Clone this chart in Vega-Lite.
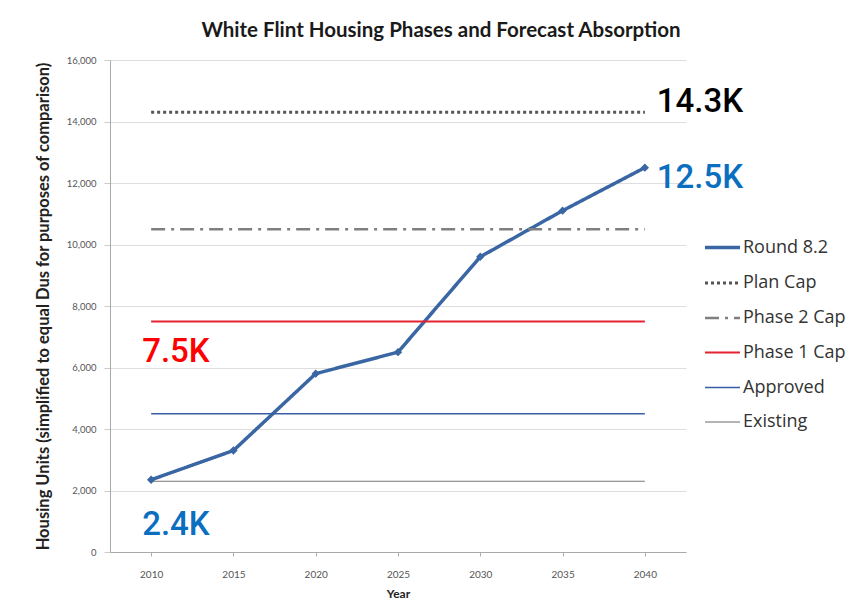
{
  "$schema": "https://vega.github.io/schema/vega-lite/v6.json",
  "width": 576,
  "height": 492,
  "autosize": {"type": "none"},
  "padding": {"left": 110, "top": 60, "right": 181, "bottom": 63},
  "background": "white",
  "config": {"view": {"stroke": null}, "font": "Lato"},
  "title": {
    "text": "White Flint Housing Phases and Forecast Absorption",
    "font": "Lato", "fontSize": 20.5, "fontWeight": "bold", "color": "#1a1a1a",
    "anchor": "middle", "dx": 43, "offset": 14
  },
  "datasets": {
    "lines": [
      {"series": "Round 8.2", "year": "2010", "units": 2350},
      {"series": "Round 8.2", "year": "2015", "units": 3300},
      {"series": "Round 8.2", "year": "2020", "units": 5800},
      {"series": "Round 8.2", "year": "2025", "units": 6500},
      {"series": "Round 8.2", "year": "2030", "units": 9600},
      {"series": "Round 8.2", "year": "2035", "units": 11100},
      {"series": "Round 8.2", "year": "2040", "units": 12500},
      {"series": "Plan Cap", "year": "2010", "units": 14300},
      {"series": "Plan Cap", "year": "2040", "units": 14300},
      {"series": "Phase 2 Cap", "year": "2010", "units": 10500},
      {"series": "Phase 2 Cap", "year": "2040", "units": 10500},
      {"series": "Phase 1 Cap", "year": "2010", "units": 7500},
      {"series": "Phase 1 Cap", "year": "2040", "units": 7500},
      {"series": "Approved", "year": "2010", "units": 4500},
      {"series": "Approved", "year": "2040", "units": 4500},
      {"series": "Existing", "year": "2010", "units": 2300},
      {"series": "Existing", "year": "2040", "units": 2300}
    ],
    "notes": [
      {"label": "14.3K", "year": "2040", "units": 14300},
      {"label": "12.5K", "year": "2040", "units": 12500},
      {"label": "7.5K", "year": "2010", "units": 7500},
      {"label": "2.4K", "year": "2010", "units": 2350}
    ]
  },
  "encoding": {
    "x": {
      "field": "year", "type": "ordinal",
      "scale": {"type": "point", "padding": 0.5, "domain": ["2010","2015","2020","2025","2030","2035","2040"]},
      "axis": {
        "title": "Year", "titleFontSize": 12, "titleFontWeight": "bold", "titleColor": "#222",
        "titlePadding": 9,
        "labelAngle": 0, "labelFontSize": 10, "labelColor": "#555", "labelPadding": 13,
        "domainColor": "#aaa", "tickColor": "#aaa", "tickSize": 4, "grid": false
      }
    },
    "y": {
      "field": "units", "type": "quantitative",
      "scale": {"domain": [0, 16000]},
      "axis": {
        "title": "Housing Units (simplified to equal Dus for purposes of comparison)",
        "titleFontSize": 16.5, "titleFontWeight": "bold", "titleColor": "#222", "titlePadding": 15,
        "values": [0,2000,4000,6000,8000,10000,12000,14000,16000],
        "format": ",.0f", "labelFontSize": 9.5, "labelColor": "#555", "labelPadding": 8,
        "domainColor": "#aaa", "tickColor": "#ccc", "tickSize": 6,
        "gridColor": "#dedede", "gridWidth": 1
      }
    }
  },
  "layer": [
    {
      "data": {"name": "lines"},
      "mark": {"type": "line"},
      "encoding": {
        "color": {
          "field": "series", "type": "nominal",
          "scale": {
            "domain": ["Round 8.2","Plan Cap","Phase 2 Cap","Phase 1 Cap","Approved","Existing"],
            "range": ["#3a66a3","#555555","#7f7f7f","#e52330","#3a5ea5","#6a6a6a"]
          },
          "legend": {
            "title": null, "orient": "none", "legendX": 593, "legendY": 168,
            "symbolType": "stroke", "symbolSize": 1225, "symbolStrokeWidth": 2,
            "labelFontSize": 18, "labelColor": "#333", "labelFont": "Open Sans", "labelOffset": 1,
            "rowPadding": 7
          }
        },
        "strokeDash": {
          "field": "series", "type": "nominal",
          "scale": {
            "domain": ["Round 8.2","Plan Cap","Phase 2 Cap","Phase 1 Cap","Approved","Existing"],
            "range": [[1,0],[3,3],[14,6,3,6],[1,0],[1,0],[1,0]]
          },
          "legend": {
            "title": null, "orient": "none", "legendX": 593, "legendY": 168,
            "symbolType": "stroke", "symbolSize": 1225, "symbolStrokeWidth": 2,
            "labelFontSize": 18, "labelColor": "#333", "labelFont": "Open Sans", "labelOffset": 1,
            "rowPadding": 7
          }
        },
        "strokeWidth": {
          "field": "series", "type": "nominal",
          "scale": {
            "domain": ["Round 8.2","Plan Cap","Phase 2 Cap","Phase 1 Cap","Approved","Existing"],
            "range": [3.5, 1, 1.5, 2, 2, 1.5]
          },
          "legend": null
        },
        "order": {"field": "year"}
      }
    },
    {
      "data": {"name": "lines"},
      "transform": [{"filter": "datum.series === 'Round 8.2'"}],
      "mark": {"type": "point", "shape": "diamond", "filled": true, "size": 70, "color": "#3a66a3", "opacity": 1}
    },
    {
      "data": {"name": "notes"},
      "transform": [{"filter": "datum.label === '14.3K'"}],
      "mark": {"type": "text", "align": "left", "baseline": "middle", "dx": 12, "dy": -10, "font": "Roboto", "fontWeight": 500, "fontSize": 33, "color": "#000000"},
      "encoding": {"text": {"field": "label"}}
    },
    {
      "data": {"name": "notes"},
      "transform": [{"filter": "datum.label === '12.5K'"}],
      "mark": {"type": "text", "align": "left", "baseline": "middle", "dx": 12, "dy": 10, "font": "Roboto", "fontWeight": 500, "fontSize": 33, "color": "#0b6fc0"},
      "encoding": {"text": {"field": "label"}}
    },
    {
      "data": {"name": "notes"},
      "transform": [{"filter": "datum.label === '7.5K'"}],
      "mark": {"type": "text", "align": "left", "baseline": "middle", "dx": -9, "dy": 31, "font": "Roboto", "fontWeight": 500, "fontSize": 33, "color": "#ff0000"},
      "encoding": {"text": {"field": "label"}}
    },
    {
      "data": {"name": "notes"},
      "transform": [{"filter": "datum.label === '2.4K'"}],
      "mark": {"type": "text", "align": "left", "baseline": "middle", "dx": -9, "dy": 45, "font": "Roboto", "fontWeight": 500, "fontSize": 33, "color": "#0b6fc0"},
      "encoding": {"text": {"field": "label"}}
    }
  ]
}
